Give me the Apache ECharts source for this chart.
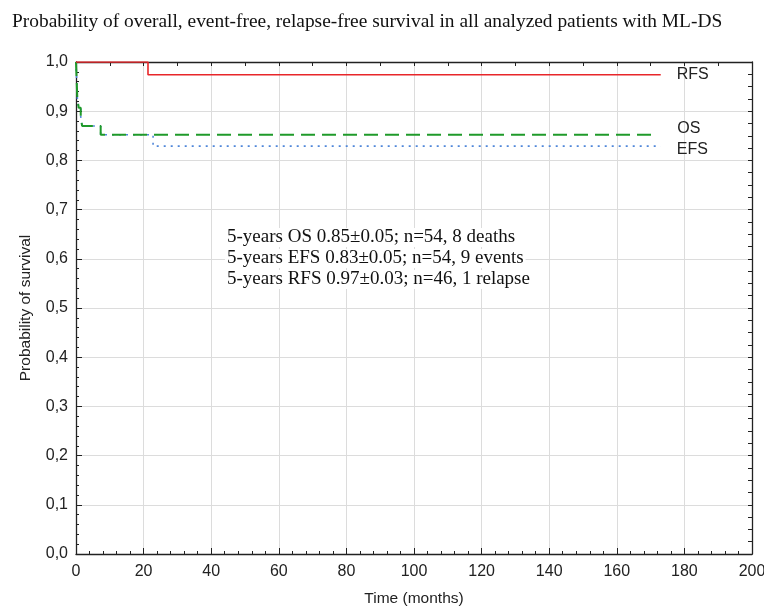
<!DOCTYPE html>
<html>
<head>
<meta charset="utf-8">
<script src="https://cdn.jsdelivr.net/npm/echarts@6/dist/echarts.min.js"></script>
<style>
  html, body { margin: 0; padding: 0; background: #fff; }
  #chart { width: 764px; height: 610px; }
</style>
</head>
<body>
<div id="chart"></div>
<script>
// Kaplan-Meier steps (months, survival)
const osTimes = [0, 0.1, 0.2, 0.3, 0.4, 0.8, 1.4, 1.8, 7.3, 172];
const osSurv = [1, 0.981, 0.963, 0.944, 0.926, 0.907, 0.889, 0.870, 0.852, 0.852];
const efsTimes = [0, 0.1, 0.2, 0.3, 0.4, 0.8, 1.4, 1.8, 7.3, 22.8, 173];
const efsSurv = [1, 0.981, 0.963, 0.944, 0.926, 0.907, 0.889, 0.870, 0.852, 0.829, 0.829];
const rfsTimes = [0, 21.3, 173];
const rfsSurv = [1, 0.974, 0.974];
const notes = [
  '5-years OS 0.85\u00b10.05; n=54, 8 deaths',
  '5-years EFS 0.83\u00b10.05; n=54, 9 events',
  '5-years RFS 0.97\u00b10.03; n=46, 1 relapse'
];

const pairs = (t, s) => t.map((v, i) => [v, s[i]]);
const chart = echarts.init(document.getElementById('chart'));

const sans = 'Liberation Sans, Arial, sans-serif';
const serif = 'Liberation Serif, Times New Roman, serif';
const ink = '#222';
const axisDark = { show: true, onZero: false, lineStyle: { color: ink, width: 1.3 } };
const noLine = { show: false, onZero: false };
const tick = len => ({ show: true, inside: true, length: len, lineStyle: { color: ink } });

// extra axes only carry the small inward ticks and the frame
const tickAxis = (pos, max, step, len, line) => ({
  type: 'value',
  position: pos,
  min: 0, max: max, interval: step,
  axisLine: line ? axisDark : noLine,
  axisTick: tick(len),
  axisLabel: { show: false },
  splitLine: { show: false }
});

// label at the end of each curve
const endLab = (dx, dy) => ({
  show: true,
  formatter: '{a}',
  distance: 16,
  offset: [dx, dy],
  color: ink,
  fontFamily: sans,
  fontSize: 16
});

chart.setOption({
  animation: false,
  title: {
    text: 'Probability of overall, event-free, relapse-free survival in all analyzed patients with ML-DS',
    left: 7,
    top: 7,
    textStyle: { fontFamily: serif, fontSize: 19.4, fontWeight: 'normal', color: '#111' }
  },
  grid: { left: 76, top: 62, right: 12, bottom: 56, outerBoundsMode: 'none' },
  xAxis: [{
    type: 'value',
    min: 0, max: 200, interval: 20,
    name: 'Time (months)',
    nameLocation: 'middle',
    nameGap: 37,
    nameTextStyle: { fontFamily: sans, fontSize: 15.5, color: ink },
    axisLine: axisDark,
    axisTick: tick(6),
    axisLabel: { fontFamily: sans, fontSize: 16, color: ink, margin: 10 },
    splitLine: { show: true, lineStyle: { color: '#dcdcdc', width: 1 } }
  },
    tickAxis('bottom', 200, 4, 3, false),
    tickAxis('top', 200, 10, 4, true)
  ],
  yAxis: [{
    type: 'value',
    min: 0, max: 1, interval: 0.1,
    name: 'Probability of survival',
    nameLocation: 'middle',
    nameGap: 42,
    nameTextStyle: { fontFamily: sans, fontSize: 15.5, color: ink },
    axisLine: axisDark,
    axisTick: tick(6),
    axisLabel: {
      fontFamily: sans, fontSize: 16, color: ink, margin: 8,
      formatter: v => v.toFixed(1).replace('.', ',')
    },
    splitLine: { show: true, lineStyle: { color: '#dcdcdc', width: 1 } }
  },
    tickAxis('left', 1, 0.02, 3, false),
    tickAxis('right', 1, 0.025, 4, true)
  ],
  series: [
    {
      name: 'EFS',
      type: 'line',
      step: 'end',
      showSymbol: false,
      z: 2,
      data: pairs(efsTimes, efsSurv),
      lineStyle: { color: '#4f86d9', width: 1.6, type: [2, 5] },
      endLabel: endLab(0, 3)
    },
    {
      name: 'OS',
      type: 'line',
      step: 'end',
      showSymbol: false,
      z: 3,
      data: pairs(osTimes, osSurv),
      lineStyle: { color: '#1f9a2a', width: 2, type: [14, 7] },
      endLabel: endLab(4, -6)
    },
    {
      name: 'RFS',
      type: 'line',
      step: 'end',
      showSymbol: false,
      z: 4,
      data: pairs(rfsTimes, rfsSurv),
      lineStyle: { color: '#e8262a', width: 1.6 },
      endLabel: endLab(0, 0)
    }
  ],
  graphic: notes.map((t, i) => ({
    type: 'text',
    left: 225,
    top: 228 + i * 21,
    z: 10,
    style: {
      text: t, fontFamily: serif, fontSize: 19, fill: '#111',
      backgroundColor: '#fff', padding: [0, 2]
    }
  }))
});
</script>
</body>
</html>
